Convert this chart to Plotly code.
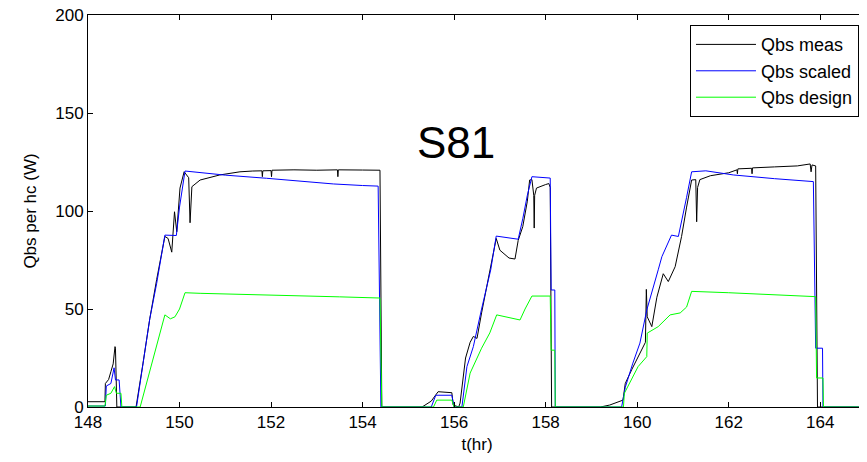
import plotly.graph_objects as go

# measured heat per hc (black)
t_meas = [148.0, 148.37, 148.38, 148.45, 148.5, 148.55, 148.59, 148.6, 148.63,
          149.05, 149.2, 149.35, 149.5, 149.68, 149.75, 149.83, 149.89, 149.94,
          150.01, 150.1, 150.2, 150.23, 150.27, 150.45, 150.88, 151.32, 151.6,
          151.8, 151.81, 151.82, 152.0, 152.01, 152.02, 152.5, 153.0, 153.45,
          153.46, 153.47, 154.0, 154.38, 154.42, 155.3, 155.5, 155.65, 155.95,
          155.98, 156.1, 156.13, 156.25, 156.35, 156.42, 156.5, 156.6, 156.7,
          156.8, 156.92, 157.0, 157.07, 157.2, 157.33, 157.4, 157.5, 157.6,
          157.65, 157.7, 157.74, 157.75, 157.76, 157.8, 158.0, 158.07, 158.1,
          158.13, 159.2, 159.4, 159.69, 159.74, 159.88, 159.99, 160.18, 160.2,
          160.22, 160.32, 160.43, 160.57, 160.68, 160.83, 160.97, 161.08, 161.19,
          161.28, 161.3, 161.32, 161.37, 161.6, 162.0, 162.18, 162.19, 162.2,
          162.5, 162.51, 162.52, 163.0, 163.5, 163.78, 163.8, 163.82, 163.9,
          163.94, 165.0]
q_meas = [2.7, 2.7, 12, 14, 18, 22, 30.8, 30, 0,
          0, 22, 45, 65, 87, 86, 79, 99.6, 89.4,
          111.7, 120, 117, 94, 112.4, 115.8, 118.4, 120, 120.4,
          120.5, 117.5, 120.5, 120.6, 117.5, 120.8, 121, 120.8, 121,
          117.5, 121, 120.9, 120.8, 0, 0, 3, 7.8, 7.3,
          1, 0, 2, 25, 33, 36, 35, 48, 60,
          72, 86, 80, 78.5, 76, 75.5, 85, 92, 105,
          115.8, 116, 108, 91.3, 108, 111.7, 113.5, 114, 112,
          0, 0, 1, 3.5, 12, 19, 24, 33, 60,
          46, 41, 56, 68, 64, 71.6, 87, 102, 115.8,
          116, 94.5, 112, 116, 118, 119.5, 121, 119, 121.5,
          121.8, 119, 122, 122.5, 123, 124, 120, 123.5, 123,
          0, 0]

# scaled heat per hc (blue)
t_scaled = [148.0, 148.38, 148.4, 148.5, 148.57, 148.6, 148.68, 148.72, 149.06,
            149.2, 149.35, 149.5, 149.68, 149.93, 150.0, 150.12, 150.45, 151.0,
            151.9, 152.5, 153.36, 154.0, 154.34, 154.4, 155.5, 155.6, 155.95,
            156.0, 156.17, 156.28, 156.42, 156.6, 156.8, 156.92, 157.4, 157.5,
            157.6, 157.7, 158.1, 158.12, 158.2, 158.21, 159.66, 159.74, 159.9,
            160.06, 160.21, 160.46, 160.54, 160.75, 160.9, 161.08, 161.19, 161.5,
            162.1, 163.0, 163.85, 163.9, 164.05, 164.06, 165.0]
q_scaled = [0.5, 0.5, 10.7, 12, 20, 13.8, 13.8, 0, 0,
            22, 45, 63, 87.7, 87.5, 102, 120.4, 119.5, 118.3,
            116.7, 115.5, 113.8, 113, 112.7, 0, 0, 6, 6,
            0, 0, 20.6, 30.8, 50, 70, 87.2, 85.6, 96,
            108, 117.5, 116.8, 59.7, 59.7, 0, 0, 10, 22,
            32.6, 49.5, 70, 76.7, 87.7, 87, 107, 120, 120.5,
            118.4, 116.5, 115, 30, 30, 0, 0]

# design heat per hc (green)
t_design = [148.0, 148.37, 148.4, 148.5, 148.58, 148.62, 148.72, 148.74, 149.14,
            149.3, 149.45, 149.6, 149.68, 149.8, 149.9, 150.0, 150.12, 150.45,
            151.5, 152.5, 153.5, 154.38, 154.42, 155.55, 155.62, 155.95, 156.0,
            156.2, 156.35, 156.6, 156.78, 156.93, 157.44, 157.55, 157.7, 158.1,
            158.12, 158.2, 158.21, 159.7, 159.72, 160.02, 160.21, 160.22, 160.46,
            160.72, 160.94, 161.08, 161.19, 162.0, 163.0, 163.9, 163.92, 164.06,
            164.07, 165.0]
q_design = [0.5, 0.5, 6, 7, 10.4, 7, 7, 0, 0,
            14, 28, 40, 47, 45, 46, 50, 58.3, 58,
            57.5, 56.8, 56.2, 55.6, 0, 0, 3.5, 3.5, 0,
            0, 17.3, 30, 37.8, 47, 44.4, 50, 56.6, 56.6,
            29, 29, 0, 0, 7, 20.6, 25.7, 37.7, 41,
            47, 48, 51, 59, 58.3, 57.2, 56.3, 14.8, 14.8,
            0, 0]

x_ticks = [148, 150, 152, 154, 156, 158, 160, 162, 164]
y_ticks = [0, 50, 100, 150, 200]

font = "Liberation Sans, Arial, sans-serif"

fig = go.Figure()
fig.add_trace(go.Scatter(x=t_meas, y=q_meas, mode="lines", name="Qbs meas",
                         line=dict(color="black", width=1)))
fig.add_trace(go.Scatter(x=t_scaled, y=q_scaled, mode="lines", name="Qbs scaled",
                         line=dict(color="#0000ff", width=1)))
fig.add_trace(go.Scatter(x=t_design, y=q_design, mode="lines", name="Qbs design",
                         line=dict(color="#00ff00", width=1)))

fig.add_annotation(text="S81", x=156.04, y=134.7, xref="x", yref="y",
                   showarrow=False, font=dict(family=font, size=44, color="black"))

axis_style = dict(showline=True, linecolor="black", linewidth=1, mirror="ticks",
                  ticks="inside", ticklen=5, tickcolor="black", showgrid=False,
                  zeroline=False, automargin=False, ticklabeloverflow="allow",
                  tickfont=dict(family=font, size=17, color="black"))

fig.update_xaxes(range=[148, 165], tickvals=x_ticks,
                 title=dict(text="t(hr)", font=dict(family=font, size=17, color="black"),
                            standoff=6),
                 **axis_style)
fig.update_yaxes(range=[0, 200], tickvals=y_ticks,
                 title=dict(text="Qbs per hc (W)", font=dict(family=font, size=17, color="black"),
                            standoff=14),
                 **axis_style)

# the page body adds an 8px margin, so the figure is drawn 8px smaller
fig.update_layout(
    width=859, height=454,
    margin=dict(l=80, r=1, t=7, b=55),
    plot_bgcolor="white", paper_bgcolor="white",
    legend=dict(x=0.991, y=0.974, xanchor="right", yanchor="top",
                bordercolor="black", borderwidth=1, bgcolor="white",
                font=dict(family=font, size=18, color="black"),
                itemwidth=60),
)

fig.write_html("out.html")
